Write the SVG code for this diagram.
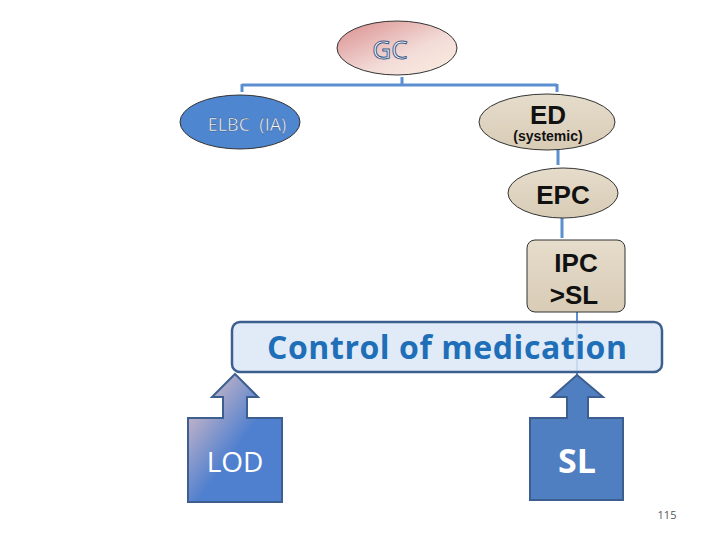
<svg xmlns="http://www.w3.org/2000/svg" width="720" height="540" viewBox="0 0 720 540">
<style>
.ln{stroke:#5b8fd0;stroke-width:3;fill:none}
.tan{fill:url(#tan);stroke:#333;stroke-width:1}
.b{font-family:"Liberation Sans",Arial,sans-serif;font-weight:bold;fill:#111;text-anchor:middle}
.c{font-family:"Open Sans","DejaVu Sans",sans-serif;text-anchor:middle}
</style>
<defs>
<linearGradient id="gc" x1="0" y1="0" x2="1" y2="1"><stop offset="0" stop-color="#d98d8d"/><stop offset="0.6" stop-color="#f3dcd8"/><stop offset="1" stop-color="#fbeee0"/></linearGradient>
<linearGradient id="tan" x1="0" y1="0" x2="0" y2="1"><stop offset="0" stop-color="#e6dccb"/><stop offset="1" stop-color="#d8ccb6"/></linearGradient>
<linearGradient id="lod" x1="0" y1="0" x2="1" y2="1"><stop offset="0" stop-color="#f2c9c4"/><stop offset="0.55" stop-color="#4f7fcf"/><stop offset="1" stop-color="#4f7fcf"/></linearGradient>
</defs>
<g id="connectors">
<path class="ln" d="M402 77 V85 M242 85 H557 M242 84 V92 M557 84 V92"/>
<path class="ln" d="M558 150 V165 M562 218 V238"/>
<path d="M577 312 V375" stroke="#5b8fd0" stroke-width="2"/>
</g>
<g id="GC"><ellipse cx="397" cy="48" rx="60" ry="27" fill="url(#gc)" stroke="#333"/>
<text x="390" y="59" class="c" font-size="26" fill="#fff" stroke="#3a5a8a" stroke-width="1">GC</text></g>
<g id="ELBC"><ellipse cx="240" cy="122" rx="60" ry="27" fill="#4f86d0" stroke="#333"/>
<text x="247" y="131" class="c" font-size="18" fill="#fff" stroke="#2a4a7a" stroke-width="0.4">ELBC&#160; (IA)</text></g>
<g id="ED"><ellipse cx="547" cy="122" rx="68" ry="28" class="tan"/>
<text x="548" y="124" class="b" font-size="26">ED</text>
<text x="548" y="141" class="b" font-size="14">(systemic)</text></g>
<g id="EPC"><ellipse cx="563" cy="193" rx="55" ry="25" class="tan"/>
<text x="563" y="204" class="b" font-size="26">EPC</text></g>
<g id="IPC"><rect x="527" y="240" width="98" height="72" rx="8" class="tan" stroke="none"/>
<text x="576" y="272" class="b" font-size="26">IPC</text>
<text x="574" y="304" class="b" font-size="26">&gt;SL</text></g>
<g id="control"><rect x="232" y="322" width="430" height="50" rx="8" fill="#dce8f6" fill-opacity="0.85" stroke="#3d5f8f" stroke-width="2.5"/>
<text x="447" y="359" class="c" font-size="32" font-weight="bold" fill="#1f6fb8" textLength="360">Control of medication</text></g>
<g id="LOD"><path d="M235 374 L258 397 H247 V418 H282 V502 H188 V418 H223 V397 H212 Z" fill="url(#lod)" stroke="#3d5f8f" stroke-width="2"/>
<text x="235" y="472" class="c" font-size="28" fill="#fff">LOD</text></g>
<g id="SL"><path d="M577 375 L603 397 H588 V418 H623 V500 H530 V418 H567 V397 H552 Z" fill="#4f7fc0" stroke="#3d5f8f" stroke-width="2"/>
<text x="577" y="473" class="c" font-size="34" font-weight="bold" fill="#fff">SL</text></g>
<text x="667" y="519" class="c" font-size="11" fill="#555">115</text>
</svg>
